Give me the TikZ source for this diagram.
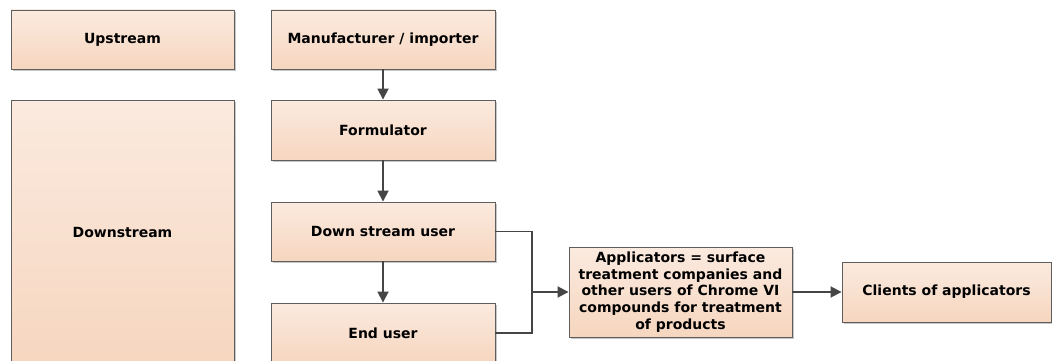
\documentclass[tikz,border=0pt]{standalone}
\usepackage{fontspec}
\setmainfont{DejaVu Sans}
\usetikzlibrary{arrows.meta,shadows}
\definecolor{boxtop}{HTML}{FBEADF}
\definecolor{boxbot}{HTML}{F6D6BF}
\definecolor{boxline}{HTML}{5E5E5E}
\definecolor{arrowc}{HTML}{454545}
\tikzset{
  box/.style={draw=boxline, line width=0.9pt, top color=boxtop, bottom color=boxbot,
    minimum width=223pt, minimum height=59pt, inner sep=2pt, align=center,
    font=\fontsize{14}{16.7}\selectfont\bfseries,
    drop shadow={shadow xshift=2pt, shadow yshift=-2pt, fill=black!22, opacity=1}},
  conn/.style={draw=arrowc, line width=1.8pt},
  arr/.style={conn, -{Triangle[length=11pt,width=11pt]}}
}
\begin{document}
\begin{tikzpicture}[x=1pt,y=-1pt]
\useasboundingbox (0,0) rectangle (1052,361);
\clip (0,0) rectangle (1052,361);
\node[box] (up) at (122.5,39.5) {Upstream};
\node[box, minimum width=224pt] (man) at (383,39.5) {Manufacturer / importer};
\node[box, minimum height=265pt] (down) at (122.5,232.5) {Downstream};
\node[box, minimum width=224pt, minimum height=60pt] (form) at (383,130) {Formulator};
\node[box, minimum width=224pt] (dsu) at (383,231.5) {Down stream user};
\node[box, minimum width=224pt, minimum height=60pt] (end) at (383,333) {End user};
\node[box, minimum height=90pt] (app) at (680.5,292) {Applicators = surface\\treatment companies and\\other users of Chrome VI\\compounds for treatment\\of products};
\node[box, minimum width=209pt, minimum height=60pt] (cli) at (946.5,292) {Clients of applicators};
\coordinate (j) at (532,292);
\draw[arr] (man) -- (form);
\draw[arr] (form) -- (dsu);
\draw[arr] (dsu) -- (end);
\draw[conn] (dsu.east) -| (j);
\draw[conn] (end.east) -| (j);
\draw[arr] (j) -- (app.west);
\draw[arr] (app) -- (cli);
\end{tikzpicture}
\end{document}
